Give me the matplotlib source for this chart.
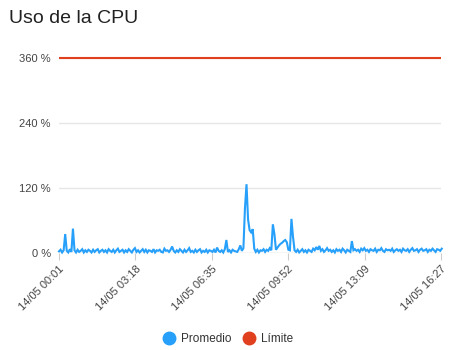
import pandas as pd
import matplotlib
matplotlib.use('Agg')
import matplotlib.pyplot as plt
from matplotlib.lines import Line2D

plt.rcParams['font.family'] = ['Liberation Sans', 'DejaVu Sans']

# CPU usage (%), one sample every 4 minutes from 14/05 00:01
promedio = [
    3, 6, 1, 5, 35, 4, 1, 7, 2, 45, 5, 1, 6, 2, 4, 7, 1, 5, 2, 6,
    4, 1, 6, 2, 5, 7, 1, 4, 6, 2, 5, 1, 7, 4, 2, 6, 1, 5, 8, 2,
    4, 6, 1, 5, 2, 7, 4, 1, 6, 9, 2, 5, 1, 4, 7, 2, 6, 1, 5, 4,
    2, 7, 1, 5, 4, 6, 2, 1, 8, 4, 5, 2, 6, 12, 4, 1, 5, 2, 7, 4,
    1, 6, 2, 5, 9, 2, 4, 1, 6, 2, 5, 7, 1, 4, 2, 6, 1, 5, 4, 2,
    6, 1, 10, 4, 2, 5, 1, 7, 24, 2, 5, 1, 6, 4, 3, 2, 7, 14, 4, 9,
    83, 127, 62, 42, 38, 44, 8, 2, 6, 1, 5, 4, 7, 2, 6, 4, 9, 5, 53, 35,
    6, 10, 14, 17, 19, 22, 24, 20, 6, 5, 63, 30, 5, 2, 6, 1, 4, 7, 2, 5,
    1, 6, 4, 2, 8, 5, 11, 6, 13, 4, 7, 2, 5, 9, 4, 6, 2, 5, 1, 7,
    4, 6, 2, 8, 5, 1, 6, 4, 2, 22, 5, 7, 4, 6, 2, 8, 5, 9, 4, 6,
    2, 7, 5, 4, 8, 2, 6, 5, 9, 4, 2, 7, 5, 6, 4, 8, 2, 5, 7, 4,
    6, 2, 8, 5, 4, 7, 2, 6, 9, 4, 5, 7, 2, 6, 8, 4, 5, 7, 2, 6,
    4, 8, 5, 2, 7, 6, 4, 8,
]
limite = 360

y_ticks = [0, 120, 240, 360]
y_tick_labels = ['0 %', '120 %', '240 %', '360 %']
x_tick_labels = ['14/05 00:01', '14/05 03:18', '14/05 06:35',
                 '14/05 09:52', '14/05 13:09', '14/05 16:27']

start = pd.Timestamp('2024-05-14 00:01')
end = pd.Timestamp('2024-05-14 16:27')
times = pd.date_range(start, periods=len(promedio), freq='4min')
tick_times = pd.date_range(start, end, periods=len(x_tick_labels))

blue = '#26A0FA'
red = '#E0401E'

fig = plt.figure(figsize=(4.51, 3.5), dpi=100)
fig.text(9 / 451, 1 - 23 / 350, 'Uso de la CPU', fontsize=14,
         color='#212121', va='baseline')

ax = fig.add_axes([59 / 451, 97 / 350, 382 / 451, 195 / 350])
ax.set_xlim(start, end)
ax.set_ylim(0, 360)

for y in y_ticks[1:]:
    ax.axhline(y, color='#e6e6e6', lw=1, zorder=0)
ax.axhline(0, color='#cccccc', lw=1, zorder=0)

ax.plot(times, promedio, color=blue, lw=1.5, clip_on=False, zorder=3,
        solid_joinstyle='miter')
ax.plot([start, end], [limite, limite], color=red, lw=1.5, zorder=3,
        solid_capstyle='butt', clip_on=False)

for s in ax.spines.values():
    s.set_visible(False)

ax.set_yticks(y_ticks)
ax.set_yticklabels(y_tick_labels, fontsize=8, color='#444444')
ax.tick_params(axis='y', length=0, pad=6)

ax.set_xticks(tick_times)
ax.set_xticklabels(x_tick_labels, fontsize=8, color='#444444',
                   rotation=45, ha='right', rotation_mode='anchor')
ax.tick_params(axis='x', length=5, color='#cccccc', pad=3)

handles = [
    Line2D([], [], ls='none', marker='o', markersize=9, color=blue),
    Line2D([], [], ls='none', marker='o', markersize=9, color=red),
]
fig.legend(handles, ['Promedio', 'Límite'], loc='center',
           bbox_to_anchor=(0.5, 1 - 339 / 350), ncol=2, frameon=False,
           fontsize=8.5, handletextpad=0.0, columnspacing=0.5,
           labelcolor='#333333')

fig.savefig('out.png', dpi=100)
